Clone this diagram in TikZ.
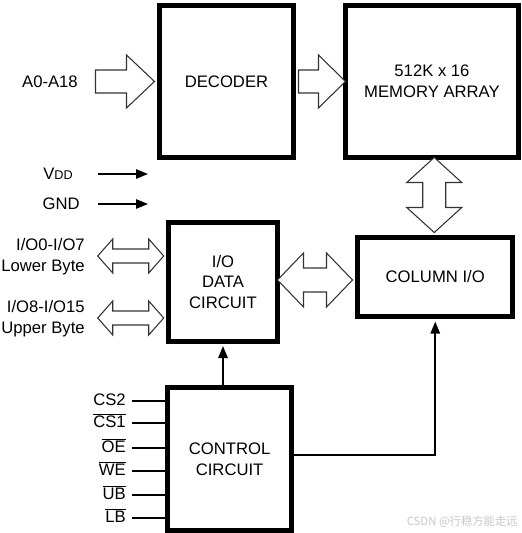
\documentclass[tikz,border=0pt]{standalone}
\usepackage{fontspec}
\setmainfont{Liberation Sans}
\newfontfamily\cjkfont{Noto Sans CJK SC}
\usepackage{tikz}
\usetikzlibrary{arrows.meta}

\newcommand{\dgfont}{\fontsize{12.5}{15.5}\selectfont}
\newcommand{\actlow}[1]{$\overline{\hbox{#1}}$}

\tikzset{
  blk/.style={draw, line width=3.75pt, inner sep=0pt, align=center, font=\dgfont},
  lbl/.style={inner sep=0pt, align=right, font=\dgfont},
  hollow/.style={draw=black!80, fill=white, line width=0.8pt, line join=miter},
  sig/.style={line width=1.4pt, -{Triangle[length=9pt,width=7pt]}},
  wire/.style={line width=1.4pt}
}

\begin{document}
\begin{tikzpicture}[x=0.75pt,y=0.75pt]
  \useasboundingbox (0,0) rectangle (522,533);

  % blocks
  \node[blk, minimum width=100.5pt, minimum height=114pt] (dec) at (226.5,451.5) {DECODER};
  \node[blk, minimum width=130pt, minimum height=114pt] (mem) at (432,451.5) {512K x 16\\MEMORY ARRAY};
  \node[blk, minimum width=81.4pt, minimum height=88.9pt] (iod) at (223,251.25) {I/O\\DATA\\CIRCUIT};
  \node[blk, minimum width=116.6pt, minimum height=59.25pt] (col) at (435.25,256) {COLUMN I/O};
  \node[blk, minimum width=93.2pt, minimum height=107.25pt] (ctl) at (229.6,74) {CONTROL\\CIRCUIT};

  % address bus
  \node[lbl, anchor=east] (addr) at (78,451.5) {A0-A18};
  \draw[hollow] ([shift={(-61.5,11.5)}]dec.west) -- ++(31,0) -- ++(0,15)
    -- ++(28,-26.5) -- ++(-28,-26.5) -- ++(0,15) -- ++(-31,0) -- cycle;
  \draw[hollow] ([shift={(2.5,11.5)}]dec.east) -- ++(20,0) -- ++(0,15)
    -- ++(27,-26.5) -- ++(-27,-26.5) -- ++(0,15) -- ++(-20,0) -- cycle;

  % memory <-> column i/o
  \draw[hollow] ([shift={(-1,2.5)}]col.north) -- ++(-27.5,25) -- ++(16,0) -- ++(0,25)
    -- ++(-16,0) -- ++(27.5,25) -- ++(27.5,-25) -- ++(-16,0) -- ++(0,-25) -- ++(16,0) -- cycle;
  % i/o data <-> column i/o
  \draw[hollow] ([shift={(-2.5,-3)}]col.west) -- ++(-26,27) -- ++(0,-15) -- ++(-23,0) -- ++(0,15)
    -- ++(-26,-27) -- ++(26,-27) -- ++(0,15) -- ++(23,0) -- ++(0,-15) -- cycle;

  % data bytes
  \node[lbl, anchor=east] (lowb) at (85,276) {I/O0-I/O7\\Lower Byte};
  \node[lbl, anchor=east] (upb) at (85,214.5) {I/O8-I/O15\\Upper Byte};
  \foreach \dy in {25.75,-36.25}
    \draw[hollow] ([shift={(-2.5,\dy)}]iod.west) -- ++(-15,17) -- ++(0,-10) -- ++(-36,0) -- ++(0,10)
      -- ++(-15,-17) -- ++(15,-17) -- ++(0,10) -- ++(36,0) -- ++(0,-10) -- cycle;

  % supply
  \node[lbl, anchor=east] (vdd) at (73,359) {V{\fontsize{9.5}{10}\selectfont DD}};
  \node[lbl, anchor=east] (gnd) at (80,329) {GND};
  \coordinate (vddtip) at (148,359);
  \coordinate (gndtip) at (148,329);
  \draw[sig] ([xshift=-37.5pt]vddtip) -- (vddtip);
  \draw[sig] ([xshift=-37.5pt]gndtip) -- (gndtip);

  % control inputs
  \foreach \nm/\txt/\dy in {cstwo/CS2/58, csone/\actlow{CS1}/36, oe/\actlow{OE}/11,
                            we/\actlow{WE}/-12, ub/\actlow{UB}/-36, lb/\actlow{LB}/-59} {
    \coordinate (\nm) at ([yshift=\dy*0.75pt]ctl.west);
    \node[lbl, anchor=mid east] (\nm l) at ([shift={(-29.2pt,-1pt)}]\nm) {\txt};
    \draw[wire] ([xshift=-24.4pt]\nm) -- (\nm);
  }

  \draw[sig, shorten >=1.9pt] (iod.south |- ctl.north) -- (iod.south);
  \draw[sig, shorten >=1.9pt] ([yshift=3pt]ctl.east) -| (col.south);

  \node[anchor=east, inner sep=0pt, text=black!22, font=\cjkfont\fontsize{8.5}{9}\selectfont]
    (mark) at (518,11) {CSDN @行稳方能走远};
\end{tikzpicture}
\end{document}
